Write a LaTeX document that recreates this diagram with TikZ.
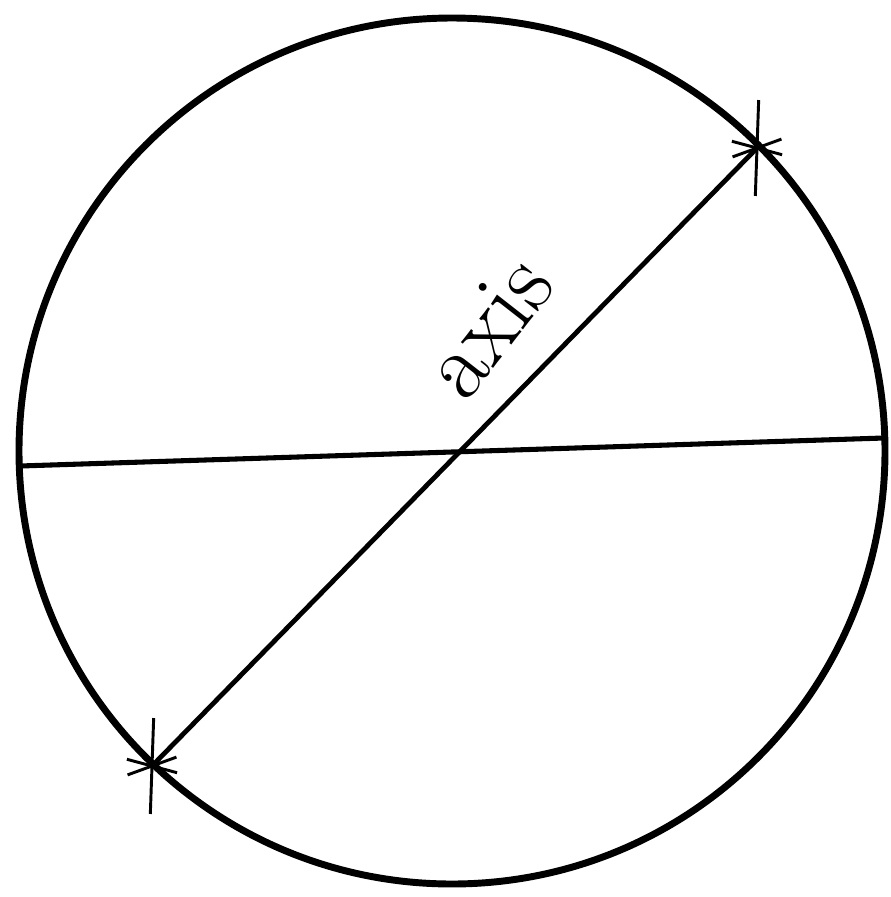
\documentclass[tikz,border=0pt]{standalone}
\begin{document}
\begin{tikzpicture}[x=0.75pt,y=0.75pt,yscale=-1,xscale=1]
                \useasboundingbox (0,0) rectangle (891,897);
                %Shape: Circle [globe]
                \draw  [line width=5.2pt] (452,451) circle [radius=433] ;
                %Points
                \coordinate (west) at (20,466) ;
                \coordinate (east) at (884,438) ;
                \coordinate (pole a) at (152,766) ;
                \coordinate (pole b) at (757,148) ;
                %Straight Lines [equator]
                \draw  [line width=3.8pt] (west) -- (east) ;
                %Straight Lines [axis]
                \draw  [line width=3.6pt] (pole a) -- (pole b) ;
                %Stars at the poles
                \foreach \p in {pole a, pole b} {
                  \draw  [line width=2.2pt] (\p) ++(92:48) -- ++(272:96) ;
                  \foreach \a in {15,-20}
                    \draw  [line width=2.2pt] (\p) ++(\a:26) -- ++(\a+180:52) ;
                }

                % Text Node
                \draw (488,326) node [rotate=52,inner sep=0.75pt] (label) {\fontsize{72}{72}\selectfont axis};
\end{tikzpicture}
\end{document}
